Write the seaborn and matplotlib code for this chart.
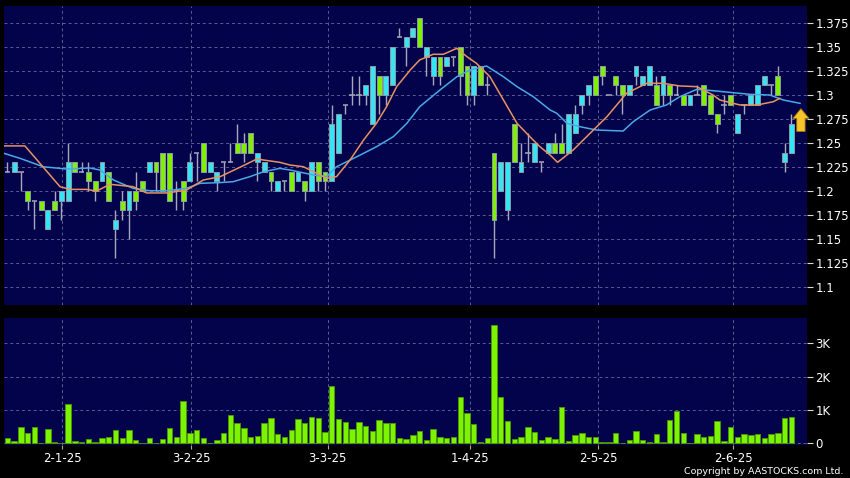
import numpy as np
import pandas as pd
import matplotlib
matplotlib.use("Agg")
import matplotlib.pyplot as plt
import seaborn as sns

# --- datos ---
opens = [1.22, 1.22, 1.22, 1.20, 1.19, 1.19, 1.16, 1.19, 1.19, 1.19,
         1.23, 1.22, 1.22, 1.21, 1.21, 1.22, 1.16, 1.19, 1.18, 1.20,
         1.21, 1.22, 1.23, 1.24, 1.24, 1.20, 1.21, 1.21, 1.24, 1.25,
         1.22, 1.21, 1.23, 1.23, 1.25, 1.25, 1.26, 1.23, 1.22, 1.22,
         1.20, 1.21, 1.22, 1.21, 1.21, 1.20, 1.23, 1.22, 1.21, 1.24,
         1.29, 1.30, 1.30, 1.30, 1.27, 1.32, 1.30, 1.31, 1.36, 1.35,
         1.36, 1.38, 1.34, 1.32, 1.34, 1.33, 1.34, 1.35, 1.33, 1.30,
         1.33, 1.31, 1.24, 1.20, 1.18, 1.27, 1.22, 1.24, 1.23, 1.23,
         1.24, 1.25, 1.25, 1.24, 1.26, 1.29, 1.30, 1.32, 1.33, 1.30,
         1.32, 1.31, 1.30, 1.32, 1.31, 1.31, 1.31, 1.30, 1.31, 1.30,
         1.30, 1.29, 1.30, 1.31, 1.30, 1.28, 1.29, 1.30, 1.26, 1.29,
         1.29, 1.29, 1.31, 1.31, 1.32, 1.23, 1.24]
closes = [1.22, 1.23, 1.22, 1.19, 1.19, 1.18, 1.18, 1.18, 1.20, 1.23,
          1.22, 1.22, 1.21, 1.20, 1.23, 1.19, 1.17, 1.18, 1.20, 1.19,
          1.20, 1.23, 1.22, 1.20, 1.19, 1.20, 1.19, 1.23, 1.24, 1.22,
          1.23, 1.22, 1.23, 1.23, 1.24, 1.24, 1.24, 1.24, 1.23, 1.21,
          1.21, 1.21, 1.20, 1.22, 1.20, 1.23, 1.21, 1.21, 1.27, 1.28,
          1.29, 1.30, 1.30, 1.31, 1.33, 1.30, 1.32, 1.35, 1.36, 1.36,
          1.37, 1.35, 1.35, 1.34, 1.32, 1.34, 1.34, 1.32, 1.30, 1.33,
          1.31, 1.31, 1.17, 1.23, 1.23, 1.23, 1.23, 1.24, 1.25, 1.23,
          1.25, 1.24, 1.24, 1.28, 1.28, 1.30, 1.31, 1.30, 1.32, 1.30,
          1.31, 1.30, 1.31, 1.33, 1.32, 1.33, 1.29, 1.32, 1.30, 1.30,
          1.29, 1.30, 1.30, 1.29, 1.28, 1.27, 1.29, 1.29, 1.28, 1.29,
          1.30, 1.31, 1.32, 1.31, 1.30, 1.24, 1.27]
highs = [1.23, 1.23, 1.22, 1.20, 1.19, 1.19, 1.18, 1.20, 1.20, 1.25,
         1.23, 1.23, 1.23, 1.21, 1.23, 1.22, 1.18, 1.20, 1.20, 1.22,
         1.21, 1.23, 1.23, 1.24, 1.24, 1.21, 1.21, 1.24, 1.24, 1.25,
         1.23, 1.22, 1.23, 1.25, 1.27, 1.26, 1.26, 1.24, 1.23, 1.22,
         1.21, 1.21, 1.22, 1.22, 1.21, 1.23, 1.23, 1.22, 1.29, 1.28,
         1.29, 1.32, 1.32, 1.31, 1.33, 1.32, 1.32, 1.35, 1.37, 1.36,
         1.37, 1.38, 1.35, 1.34, 1.34, 1.34, 1.34, 1.35, 1.33, 1.33,
         1.33, 1.32, 1.24, 1.23, 1.23, 1.27, 1.25, 1.26, 1.25, 1.23,
         1.25, 1.26, 1.27, 1.28, 1.29, 1.30, 1.31, 1.32, 1.33, 1.30,
         1.32, 1.31, 1.31, 1.33, 1.32, 1.33, 1.32, 1.32, 1.31, 1.31,
         1.30, 1.30, 1.31, 1.31, 1.30, 1.28, 1.30, 1.30, 1.28, 1.29,
         1.30, 1.31, 1.32, 1.31, 1.33, 1.25, 1.28]
lows = [1.22, 1.22, 1.20, 1.18, 1.16, 1.18, 1.16, 1.18, 1.17, 1.19,
        1.22, 1.22, 1.20, 1.19, 1.21, 1.19, 1.13, 1.17, 1.15, 1.18,
        1.20, 1.22, 1.20, 1.20, 1.19, 1.18, 1.18, 1.21, 1.21, 1.22,
        1.22, 1.20, 1.21, 1.23, 1.24, 1.23, 1.24, 1.21, 1.22, 1.20,
        1.20, 1.20, 1.20, 1.21, 1.19, 1.20, 1.20, 1.20, 1.21, 1.24,
        1.28, 1.29, 1.29, 1.29, 1.27, 1.28, 1.29, 1.31, 1.36, 1.33,
        1.36, 1.35, 1.32, 1.31, 1.31, 1.33, 1.33, 1.30, 1.29, 1.29,
        1.31, 1.30, 1.13, 1.20, 1.17, 1.23, 1.22, 1.23, 1.23, 1.22,
        1.24, 1.24, 1.24, 1.24, 1.26, 1.28, 1.29, 1.30, 1.31, 1.30,
        1.30, 1.28, 1.30, 1.31, 1.31, 1.31, 1.29, 1.29, 1.29, 1.30,
        1.29, 1.29, 1.30, 1.29, 1.28, 1.26, 1.28, 1.29, 1.26, 1.28,
        1.29, 1.29, 1.31, 1.30, 1.30, 1.22, 1.24]

# volumen en miles
volumes = [0.17, 0.07, 0.50, 0.32, 0.49, 0.01, 0.43, 0.04, 0.00, 1.19,
           0.07, 0.05, 0.12, 0.04, 0.17, 0.19, 0.40, 0.16, 0.39, 0.10,
           0.02, 0.17, 0.01, 0.13, 0.45, 0.18, 1.27, 0.31, 0.39, 0.17,
           0.02, 0.09, 0.31, 0.84, 0.60, 0.45, 0.20, 0.21, 0.61, 0.76,
           0.27, 0.19, 0.40, 0.72, 0.60, 0.80, 0.75, 0.35, 1.73, 0.73,
           0.64, 0.42, 0.65, 0.52, 0.38, 0.70, 0.61, 0.61, 0.16, 0.13,
           0.26, 0.38, 0.09, 0.43, 0.19, 0.15, 0.19, 1.38, 0.92, 0.58,
           0.03, 0.15, 3.54, 1.40, 0.68, 0.12, 0.20, 0.48, 0.35, 0.10,
           0.19, 0.14, 1.10, 0.07, 0.25, 0.30, 0.20, 0.18, 0.05, 0.05,
           0.31, 0.02, 0.09, 0.36, 0.10, 0.03, 0.27, 0.05, 0.70, 0.98,
           0.30, 0.02, 0.27, 0.18, 0.22, 0.68, 0.07, 0.50, 0.20, 0.27,
           0.24, 0.27, 0.16, 0.27, 0.30, 0.77, 0.79]

# medias móviles (puntos leídos: índice de vela, precio)
ma_fast_x = [-0.5, 2.6, 7.8, 9.3, 11.7, 13.2, 15.2, 18.6, 20.6, 23.6, 26.5, 29.0,
             31.5, 34.9, 36.9, 40.3, 41.8, 43.8, 45.8, 47.2, 48.7, 50.7, 52.7,
             54.6, 56.1, 57.6, 59.6, 61.0, 63.0, 64.5, 66.5, 68.0, 69.4, 71.4,
             73.4, 75.4, 77.3, 78.8, 80.3, 81.4, 83.7, 85.2, 88.7, 91.6, 94.6,
             97.0, 99.5, 102.0, 104.4, 105.4, 108.4, 110.9, 113.3, 114.3]
ma_fast_y = [1.247, 1.247, 1.2045, 1.2017, 1.2017, 1.200, 1.207, 1.2045, 1.198,
             1.198, 1.201, 1.2115, 1.215, 1.2264, 1.2333, 1.2299, 1.2271, 1.2253,
             1.2184, 1.2132, 1.215, 1.2323, 1.2531, 1.2705, 1.2878, 1.3087, 1.326,
             1.3365, 1.3424, 1.3424, 1.3486, 1.3399, 1.333, 1.319, 1.2948, 1.2705,
             1.2566, 1.2461, 1.2375, 1.2299, 1.2427, 1.2531, 1.2774, 1.3018,
             1.3122, 1.3122, 1.3094, 1.3087, 1.300, 1.2948, 1.2896, 1.2896,
             1.293, 1.2966]
ma_slow_x = [-0.5, 1.9, 5.3, 8.8, 12.2, 13.7, 15.7, 18.6, 21.1, 23.6, 26.5, 28.5,
             31.5, 33.4, 35.9, 37.9, 40.3, 41.8, 45.3, 47.2, 48.7, 51.7, 54.6,
             57.1, 59.1, 61.0, 64.0, 66.5, 68.4, 70.9, 73.4, 75.4, 77.8, 80.3,
             81.3, 82.8, 84.7, 87.2, 91.1, 92.6, 95.1, 97.5, 99.5, 102.0, 104.4,
             107.4, 109.9, 112.8, 114.8, 117.3]
ma_slow_y = [1.2393, 1.234, 1.2253, 1.2229, 1.224, 1.2219, 1.2115, 1.2028, 1.2003,
             1.2003, 1.2028, 1.208, 1.2088, 1.2097, 1.215, 1.2201, 1.2236, 1.2219,
             1.2167, 1.215, 1.2253, 1.2357, 1.2461, 1.2566, 1.2705, 1.2878, 1.3052,
             1.319, 1.326, 1.3302, 1.319, 1.3087, 1.2983, 1.2844, 1.2809, 1.2705,
             1.267, 1.2635, 1.2625, 1.2722, 1.2844, 1.2896, 1.2983, 1.3059, 1.3045,
             1.3024, 1.3007, 1.300, 1.2948, 1.2913]

date_labels = ["2-1-25", "3-2-25", "3-3-25", "1-4-25", "2-5-25", "2-6-25"]
date_pos = [8.1, 27.2, 47.4, 68.4, 87.4, 107.4]
price_ticks = [1.1, 1.125, 1.15, 1.175, 1.2, 1.225, 1.25, 1.275, 1.3, 1.325, 1.35, 1.375]
price_labels = ["1.1", "1.125", "1.15", "1.175", "1.2", "1.225", "1.25", "1.275",
                "1.3", "1.325", "1.35", "1.375"]
vol_ticks = [0, 1, 2, 3]
vol_labels = ["0", "1K", "2K", "3K"]

# --- estilo ---
BG = "#000000"
PANEL = "#03034c"
GRID = "#5a5a94"
CYAN = "#36e4f4"
GREEN = "#80f000"
WICK = "#a8a8b8"

sns.set_theme(style="dark", rc={"axes.facecolor": PANEL, "figure.facecolor": BG})
plt.rcParams["font.family"] = ["DejaVu Sans"]

df = pd.DataFrame({"open": opens, "high": highs, "low": lows,
                   "close": closes, "vol": volumes[:len(opens)]})
df["i"] = np.arange(len(df))

fig = plt.figure(figsize=(8.5, 4.78), dpi=100)
ax = fig.add_axes([4 / 850, 1 - 305 / 478, 803 / 850, 299 / 478])
axv = fig.add_axes([4 / 850, 1 - 445 / 478, 803 / 850, 127 / 478], sharex=ax)

xmin, xmax = -0.49, 118.3

# velas
ax.vlines(df["i"], df["low"], df["high"], color=WICK, lw=1, zorder=2)
body = df[df["open"] != df["close"]]
up = body["close"] > body["open"]
ax.bar(body["i"], (body["close"] - body["open"]).abs(),
       bottom=body[["open", "close"]].min(axis=1), width=0.72,
       color=np.where(up, CYAN, GREEN), edgecolor="#8a9aa8", linewidth=0.7, zorder=3)
doji = df[df["open"] == df["close"]]
ax.hlines(doji["open"], doji["i"] - 0.4, doji["i"] + 0.4, color=WICK, lw=1.1, zorder=3)

sns.lineplot(x=ma_slow_x, y=ma_slow_y, ax=ax, color="#4aa8e6", lw=1.1, sort=False, zorder=4)
sns.lineplot(x=ma_fast_x, y=ma_fast_y, ax=ax, color="#e8935e", lw=1.1, sort=False, zorder=4)

# flecha de la última variación
ax.annotate("", xy=(117.4, 1.2858), xytext=(117.4, 1.2620),
            arrowprops=dict(arrowstyle="simple,head_width=1.15,head_length=0.7,tail_width=0.6",
                            fc="#f7c52a", ec="#a87200", lw=0.6,
                            shrinkA=0, shrinkB=0, mutation_scale=10), zorder=5)

ax.set_xlim(xmin, xmax)
ax.set_ylim(1.0813, 1.3927)
ax.set_yticks(price_ticks)
ax.set_yticklabels(price_labels)

# volumen
axv.bar(df["i"], df["vol"], width=0.8, color="#7cf400", edgecolor="#4c9a00",
        linewidth=0.6, zorder=3)
axv.set_ylim(-0.05, 3.76)
axv.set_yticks(vol_ticks)
axv.set_yticklabels(vol_labels)
axv.set_xticks(date_pos)
axv.set_xticklabels(date_labels)

for a in (ax, axv):
    a.set_facecolor(PANEL)
    a.yaxis.tick_right()
    a.grid(True, color=GRID, linestyle=(0, (3, 3)), linewidth=0.7)
    a.set_axisbelow(True)
    for s in a.spines.values():
        s.set_visible(False)
    a.tick_params(axis="y", colors="#d8d8d8", labelcolor="white", labelsize=8.5,
                  length=4, width=0.8, pad=2, right=True, left=False)
    a.set_xlabel("")
    a.set_ylabel("")

ax.set_xticks(date_pos)
ax.tick_params(axis="x", bottom=False, labelbottom=False)
axv.tick_params(axis="x", colors="#aaaaaa", labelcolor="white", labelsize=8.5,
                length=3, width=0.8, pad=2, bottom=True)

fig.text(843 / 850, 1 - 471.5 / 478, "Copyright by AASTOCKS.com Ltd.", color="white",
         fontsize=6.8, ha="right", va="center")

fig.savefig("out.png", dpi=100, facecolor=BG)
